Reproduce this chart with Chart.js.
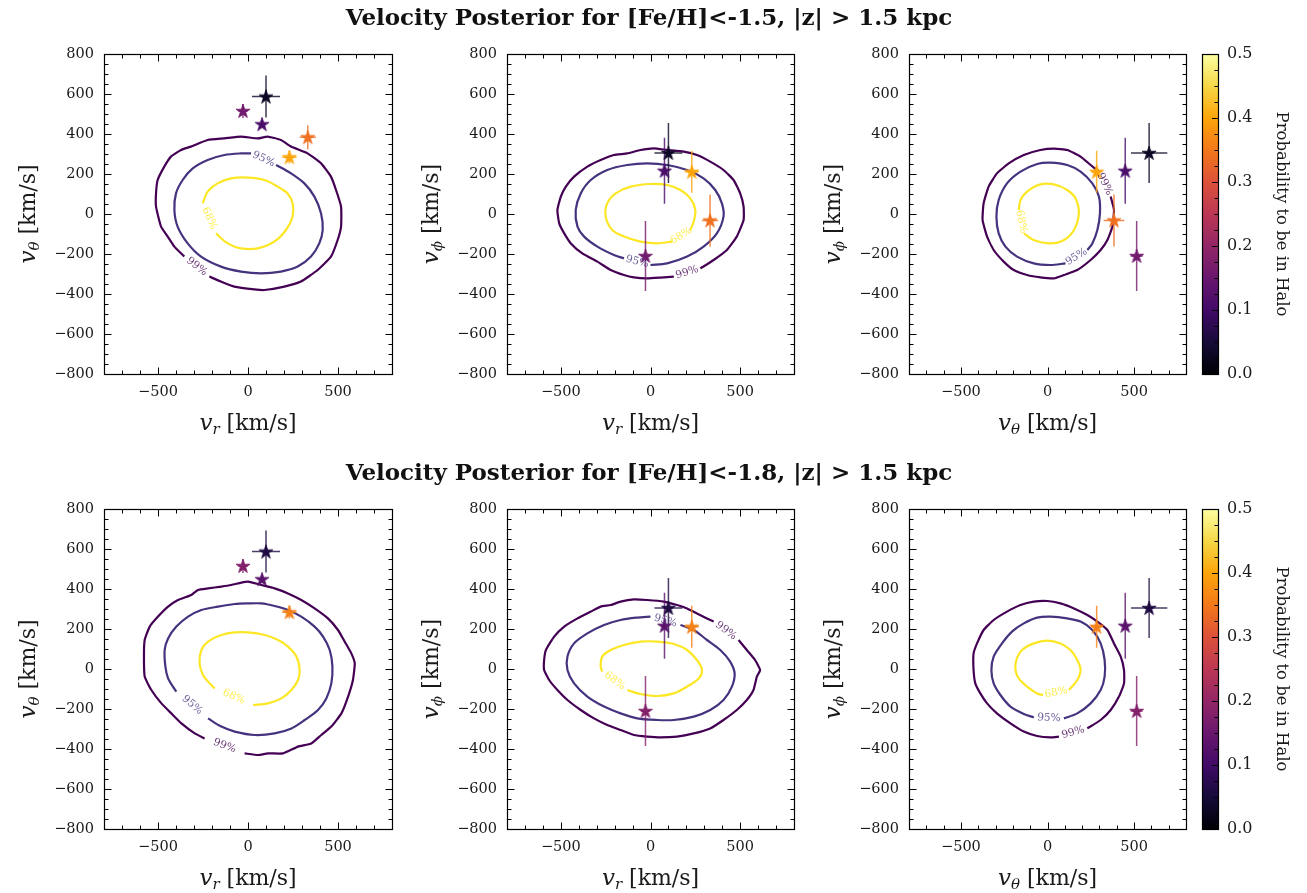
<!DOCTYPE html>
<html><head><meta charset="utf-8">
<script src="https://cdn.jsdelivr.net/npm/chart.js@4/dist/chart.umd.min.js"></script>
<style>
body{margin:0;background:#fff;width:1307px;height:893px;position:relative;overflow:hidden}
.t{position:absolute;left:0;width:1298px;text-align:center;font:bold 23px 'DejaVu Serif';line-height:22px;color:#111;z-index:2}
canvas{position:absolute}
</style></head><body>
<div class="t" style="top:6px">Velocity Posterior for [Fe/H]&lt;-1.5, |z| &gt; 1.5 kpc</div>
<div class="t" style="top:461px">Velocity Posterior for [Fe/H]&lt;-1.8, |z| &gt; 1.5 kpc</div>
<canvas id="p1" width="402" height="438" style="left:0px;top:0px"></canvas>
<canvas id="p2" width="401" height="438" style="left:403px;top:0px"></canvas>
<canvas id="p3" width="391" height="438" style="left:805px;top:0px"></canvas>
<canvas id="cb1" width="117" height="438" style="left:1190px;top:0px"></canvas>
<canvas id="p4" width="402" height="438" style="left:0px;top:455px"></canvas>
<canvas id="p5" width="401" height="438" style="left:403px;top:455px"></canvas>
<canvas id="p6" width="391" height="438" style="left:805px;top:455px"></canvas>
<canvas id="cb2" width="117" height="438" style="left:1190px;top:455px"></canvas>
<script>
// ---------------- data ----------------
const X_TICKS = [-500, 0, 500];
const Y_TICKS = [-800, -600, -400, -200, 0, 200, 400, 600, 800];
const CB_TICKS = [0, 0.1, 0.2, 0.3, 0.4, 0.5];
const P_MAX = 0.5;
const LEVELS = ['99%', '95%', '68%'];

// stars (v_r, v_theta, v_phi) and uncertainties
const VR    = [100, -28, 78, 332, 230];
const VTH   = [587, 515, 449, 384, 284];
const VPH   = [305, -210, 216, -32, 211];
const E_VR  = [78, 25, 15, 45, 40];
const E_VTH = [105, 35, 15, 60, 32];
const E_VPH = [150, 175, 165, 130, 105];
const P_HALO_15 = [0.03, 0.16, 0.11, 0.34, 0.40];
const STARS_18  = [0, 1, 2, 4];
const P_HALO_18 = [0.06, 0.18, 0.13, 0.36];

// contours [Fe/H] < -1.5
const T1_99 = [[-215,-313],[-150,-338],[-76,-363],[35,-377],[91,-380],[202,-363],[294,-338],[387,-280],[461,-213],[498,-130],[517,-63],[517,37],[489,120],[461,187],[406,253],[331,303],[239,337],[183,370],[109,387],[54,378],[-39,387],[-131,378],[-224,370],[-317,337],[-372,320],[-428,287],[-465,237],[-502,170],[-511,103],[-511,37],[-483,-63],[-446,-113],[-409,-163],[-354,-213]];
const T1_95 = [[156,245],[239,203],[313,153],[369,87],[406,3],[415,-80],[396,-147],[350,-213],[276,-263],[183,-288],[72,-297],[-39,-288],[-150,-263],[-261,-213],[-335,-147],[-391,-63],[-409,20],[-400,103],[-363,170],[-307,228],[-224,270],[-131,295],[-39,303],[17,303]];
const T1_68 = [[-178,-97],[-113,-147],[-39,-172],[54,-172],[146,-138],[211,-80],[248,-13],[248,53],[220,103],[165,137],[91,170],[-2,182],[-94,178],[-169,153],[-224,112],[-252,53]];
const T2_99 = [[278,-272],[352,-230],[426,-180],[481,-113],[519,-30],[519,37],[500,103],[463,170],[407,220],[333,262],[259,295],[185,312],[93,320],[19,328],[-56,320],[-130,303],[-204,295],[-278,270],[-352,237],[-426,187],[-472,137],[-500,87],[-519,20],[-509,-47],[-481,-97],[-444,-147],[-380,-197],[-296,-238],[-222,-280],[-148,-305],[-93,-317],[-19,-322],[56,-318],[130,-313]];
const T2_95 = [[0,-255],[93,-247],[204,-213],[296,-163],[370,-97],[407,-13],[398,53],[361,120],[296,178],[204,220],[93,245],[-19,253],[-130,245],[-241,220],[-333,170],[-389,103],[-417,20],[-407,-63],[-370,-113],[-296,-163],[-204,-205],[-148,-222]];
const T2_68 = [[120,-138],[37,-147],[-56,-138],[-148,-113],[-213,-80],[-250,-13],[-241,53],[-194,103],[-111,137],[0,150],[93,145],[167,120],[222,78],[250,20],[241,-38],[222,-80]];
const T3_99 = [[365,87],[384,20],[375,-63],[346,-130],[307,-180],[249,-230],[172,-280],[95,-305],[37,-322],[-41,-317],[-118,-305],[-195,-280],[-253,-238],[-311,-180],[-349,-113],[-375,-30],[-369,53],[-340,137],[-292,203],[-224,253],[-137,295],[-41,320],[37,327],[114,320],[191,287],[249,245],[297,212]];
const T3_95 = [[104,-247],[17,-255],[-79,-247],[-176,-213],[-243,-163],[-282,-97],[-295,-13],[-282,70],[-234,153],[-156,212],[-60,250],[17,257],[114,245],[191,212],[259,153],[297,87],[303,3],[288,-80],[259,-147],[230,-180]];
const T3_68 = [[-137,-97],[-79,-130],[17,-147],[95,-130],[153,-80],[181,3],[162,78],[114,120],[37,148],[-41,148],[-118,112],[-156,70],[-166,20]];

// contours [Fe/H] < -1.8
const B1_99 = [[-19,-422],[56,-430],[111,-422],[194,-422],[278,-388],[352,-372],[407,-330],[463,-288],[519,-222],[556,-138],[583,-55],[593,28],[574,78],[537,137],[500,195],[444,253],[370,303],[296,345],[222,378],[148,403],[74,420],[0,437],[-37,432],[-93,420],[-148,412],[-222,403],[-278,395],[-315,370],[-389,345],[-444,312],[-500,262],[-546,212],[-574,145],[-578,62],[-574,-38],[-537,-105],[-481,-172],[-426,-222],[-370,-272],[-296,-322],[-241,-347]];
const B1_95 = [[-222,-247],[-148,-288],[-74,-313],[37,-330],[148,-322],[241,-297],[315,-255],[389,-205],[435,-147],[463,-72],[469,12],[454,95],[417,162],[370,212],[296,262],[222,295],[148,315],[74,328],[0,328],[-74,325],[-167,312],[-259,295],[-333,262],[-398,212],[-444,153],[-463,95],[-459,12],[-444,-47],[-417,-88],[-398,-113]];
const B1_68 = [[28,-180],[111,-172],[185,-147],[241,-105],[278,-55],[287,-5],[269,62],[222,112],[167,145],[93,170],[0,183],[-74,183],[-148,170],[-222,137],[-259,95],[-269,28],[-250,-30],[-213,-72],[-185,-97]];
const B2_99 = [[491,145],[537,95],[583,45],[611,-5],[593,-38],[574,-105],[537,-155],[481,-205],[407,-255],[333,-297],[241,-322],[148,-338],[56,-342],[-19,-338],[-93,-330],[-167,-305],[-241,-280],[-315,-247],[-389,-205],[-463,-155],[-519,-105],[-565,-55],[-593,-5],[-593,45],[-583,95],[-537,162],[-481,212],[-407,253],[-333,287],[-278,312],[-222,320],[-167,337],[-93,348],[-19,345],[74,337],[148,320],[204,303],[259,278],[315,253],[352,237]];
const B2_95 = [[167,220],[241,195],[315,145],[389,95],[444,37],[469,-22],[454,-88],[407,-155],[333,-205],[241,-238],[130,-255],[37,-255],[-74,-247],[-167,-222],[-259,-188],[-352,-138],[-426,-72],[-463,-5],[-463,62],[-426,128],[-352,178],[-259,220],[-167,245],[-74,257],[0,262]];
const B2_68 = [[-130,-105],[-56,-125],[37,-135],[130,-122],[204,-88],[269,-47],[287,-5],[259,45],[204,95],[130,125],[37,137],[-56,137],[-148,120],[-222,95],[-269,62],[-278,12],[-269,-13]];
const B3_99 = [[230,-297],[307,-255],[365,-205],[413,-138],[442,-72],[442,-5],[423,62],[384,128],[346,195],[288,237],[230,270],[153,303],[75,328],[-2,340],[-79,337],[-156,320],[-234,287],[-311,245],[-369,195],[-407,128],[-427,78],[-427,-5],[-417,-72],[-388,-122],[-349,-172],[-292,-222],[-214,-272],[-137,-313],[-60,-335],[17,-342],[66,-338]];
const B3_95 = [[95,-247],[172,-222],[249,-172],[307,-105],[330,-38],[330,45],[307,128],[259,195],[191,237],[114,253],[17,262],[-60,257],[-137,228],[-205,187],[-263,128],[-311,62],[-324,-5],[-311,-72],[-272,-130],[-214,-188],[-137,-225],[-79,-242]];
const B3_68 = [[124,-105],[172,-55],[191,-5],[172,45],[133,95],[75,128],[-2,142],[-79,128],[-147,95],[-180,45],[-185,-5],[-166,-47],[-118,-88],[-60,-122],[-25,-130]];

// ---------------- styling helpers ----------------
const FONT = 'DejaVu Serif';
const TXT = '#1a1a1a';
const LEVEL_COLORS = ['#440154', '#46337f', '#fde725'];
const LEVEL_TENSION = [0.15, 0.3, 0.3];
const INFERNO = ['#000004','#160b39','#420a68','#6a176e','#932667','#bc3754','#dd513a','#f37819','#fca50a','#f6d746','#fcffa4'];
function rgbOf(h){return [parseInt(h.slice(1,3),16),parseInt(h.slice(3,5),16),parseInt(h.slice(5,7),16)];}
function inferno(t){
  t = Math.max(0, Math.min(1, t));
  const s = t*10, i = Math.min(9, Math.floor(s)), f = s - i;
  const a = rgbOf(INFERNO[i]), b = rgbOf(INFERNO[i+1]);
  return a.map((v,k)=>Math.round(v + (b[k]-v)*f));
}
function rgba(c, a){return `rgba(${c[0]},${c[1]},${c[2]},${a})`;}
function starImg(c){
  const cv = document.createElement('canvas'); cv.width = 20; cv.height = 20;
  const g = cv.getContext('2d'); const R = 7.4, r = R*0.382;
  g.beginPath();
  for (let k=0;k<10;k++){
    const ang = -Math.PI/2 + k*Math.PI/5, rad = k%2 ? r : R;
    const px = 10 + rad*Math.cos(ang), py = 10.5 + rad*Math.sin(ang);
    k ? g.lineTo(px,py) : g.moveTo(px,py);
  }
  g.closePath(); g.fillStyle = rgba(c,1); g.fill();
  g.lineWidth = 0.8; g.strokeStyle = rgba(c,1); g.stroke();
  return cv;
}
const fmt = v => v < 0 ? '\u2212' + Math.abs(v) : String(v);

// ---------------- plugins ----------------
Chart.register({
  id: 'errbars',
  beforeDatasetDraw(chart, args){
    const ds = chart.data.datasets[args.index];
    if (!ds.errColors) return;
    const {ctx, scales:{x, y}} = chart;
    ctx.save(); ctx.lineWidth = 1.5;
    ds.data.forEach((p,i)=>{
      ctx.strokeStyle = rgba(ds.errColors[i], 0.8);
      const px = x.getPixelForValue(p.x), py = y.getPixelForValue(p.y);
      ctx.beginPath();
      ctx.moveTo(x.getPixelForValue(p.x - p.ex), py); ctx.lineTo(x.getPixelForValue(p.x + p.ex), py);
      ctx.moveTo(px, y.getPixelForValue(p.y - p.ey)); ctx.lineTo(px, y.getPixelForValue(p.y + p.ey));
      ctx.stroke();
    });
    ctx.restore();
  }
});
Chart.register({
  id: 'clabels',
  afterDatasetsDraw(chart){
    const {ctx, scales:{x, y}} = chart;
    chart.data.datasets.forEach(ds=>{
      if (!ds.levelLabel) return;
      const a = ds.data[ds.data.length-1], b = ds.data[0];
      const ax = x.getPixelForValue(a.x), ay = y.getPixelForValue(a.y);
      const bx = x.getPixelForValue(b.x), by = y.getPixelForValue(b.y);
      let ang = Math.atan2(by-ay, bx-ax);
      if (ang > Math.PI/2) ang -= Math.PI; if (ang < -Math.PI/2) ang += Math.PI;
      ctx.save();
      ctx.translate((ax+bx)/2, (ay+by)/2); ctx.rotate(ang);
      ctx.font = `10.5px '${FONT}'`; ctx.fillStyle = ds.labelColor;
      ctx.textAlign = 'center'; ctx.textBaseline = 'middle';
      ctx.fillText(ds.levelLabel, 0, 0);
      ctx.restore();
    });
  }
});
function drawMathLabel(ctx, lab){
  const parts = [
    {t:'v', f:`italic 23px '${FONT}'`, dy:0},
    {t:lab, f:`italic 15px '${FONT}'`, dy:4},
    {t:' [km/s]', f:`22px '${FONT}'`, dy:0}
  ];
  let w = 0;
  parts.forEach(p=>{ctx.font = p.f; p.w = ctx.measureText(p.t).width; w += p.w;});
  let cx = -w/2;
  parts.forEach(p=>{ctx.font = p.f; ctx.fillText(p.t, cx, p.dy); cx += p.w;});
}
Chart.register({
  id: 'frame',
  afterDraw(chart, args, opts){
    if (!opts || !opts.on) return;
    const {ctx, chartArea:a, scales:{x, y}} = chart;
    ctx.save();
    ctx.strokeStyle = '#000'; ctx.lineWidth = 1;
    const L = Math.round(a.left)+0.5, R = Math.round(a.right)+0.5, T = Math.round(a.top)+0.5, B = Math.round(a.bottom)+0.5;
    ctx.beginPath();
    for (let v = x.min; v <= x.max; v += opts.xMinor){
      const p = Math.round(x.getPixelForValue(v))+0.5;
      const len = X_TICKS.includes(v) ? 7 : 4;
      ctx.moveTo(p, B); ctx.lineTo(p, B-len); ctx.moveTo(p, T); ctx.lineTo(p, T+len);
    }
    for (let v = y.min; v <= y.max; v += opts.yMinor){
      const p = Math.round(y.getPixelForValue(v))+0.5;
      const len = Y_TICKS.includes(v) ? 7 : 4;
      ctx.moveTo(L, p); ctx.lineTo(L+len, p); ctx.moveTo(R, p); ctx.lineTo(R-len, p);
    }
    ctx.stroke();
    ctx.lineWidth = 1.2;
    ctx.strokeRect(L, T, R-L, B-T);
    // axis titles
    ctx.fillStyle = TXT; ctx.textBaseline = 'alphabetic'; ctx.textAlign = 'left';
    ctx.save(); ctx.translate((a.left+a.right)/2, a.bottom+56); drawMathLabel(ctx, opts.xl); ctx.restore();
    ctx.save(); ctx.translate(a.left-69, (a.top+a.bottom)/2); ctx.rotate(-Math.PI/2); drawMathLabel(ctx, opts.yl); ctx.restore();
    ctx.restore();
  }
});
Chart.register({
  id: 'cbar',
  beforeDatasetsDraw(chart, args, opts){
    if (!opts || !opts.on) return;
    const {ctx, chartArea:a} = chart;
    const g = ctx.createLinearGradient(0, a.bottom, 0, a.top);
    for (let k=0;k<=50;k++){ g.addColorStop(k/50, rgba(inferno(k/50),1)); }
    ctx.save(); ctx.fillStyle = g; ctx.fillRect(a.left, a.top, a.right-a.left, a.bottom-a.top); ctx.restore();
  },
  afterDraw(chart, args, opts){
    if (!opts || !opts.on) return;
    const {ctx, chartArea:a, scales:{y}} = chart;
    ctx.save(); ctx.strokeStyle = '#000'; ctx.lineWidth = 1;
    ctx.beginPath();
    for (let k=0;k<=20;k++){
      const v = k*0.025, p = Math.round(y.getPixelForValue(v))+0.5;
      const len = (k%4===0) ? 6 : 3.5;
      ctx.moveTo(a.right, p); ctx.lineTo(a.right-len, p);
    }
    ctx.stroke();
    ctx.lineWidth = 1.2;
    ctx.strokeRect(Math.round(a.left)+0.5, Math.round(a.top)+0.5, Math.round(a.right-a.left), Math.round(a.bottom-a.top));
    ctx.restore();
  }
});

// ---------------- builders ----------------
function axisCfg(ticks, fit){
  return {
    type:'linear', min:-800, max:800,
    afterBuildTicks: s => { s.ticks = ticks.map(v=>({value:v})); },
    afterFit: fit,
    grid:{display:false, drawTicks:false}, border:{display:false},
    ticks:{font:{family:FONT, size:14.5}, color:TXT, padding:10, maxRotation:0, autoSkip:false, callback: fmt}
  };
}
function makePanel(id, xs, ys, exs, eys, probs, contours, xl, yl){
  const cols = probs.map(p=>inferno(p/P_MAX));
  const datasets = [{
    data: xs.map((v,i)=>({x:v, y:ys[i], ex:exs[i], ey:eys[i]})),
    pointStyle: cols.map(c=>starImg(c)), pointRadius:7, showLine:false, errColors: cols
  }];
  contours.forEach((c,k)=>{
    const col = rgbOf(LEVEL_COLORS[k]);
    datasets.push({
      data: c.map(([x,y])=>({x,y})), showLine:true, pointRadius:0, borderColor:LEVEL_COLORS[k],
      borderWidth:2.2, tension:LEVEL_TENSION[k], fill:false, levelLabel:LEVELS[k], labelColor: rgba(col, 0.8)
    });
  });
  new Chart(document.getElementById(id), {
    type:'scatter', data:{datasets},
    options:{
      responsive:false, animation:false, events:[], devicePixelRatio:1,
      layout:{padding:{top:54, right:10, left:0, bottom:0}},
      plugins:{legend:{display:false}, tooltip:{enabled:false}, frame:{on:true, xMinor:100, yMinor:50, xl, yl}},
      scales:{
        x: axisCfg(X_TICKS, s=>{s.height = 64;}),
        y: axisCfg(Y_TICKS, s=>{s.width = 104;})
      }
    }
  });
}
function makeColorbar(id){
  new Chart(document.getElementById(id), {
    type:'scatter', data:{datasets:[]},
    options:{
      responsive:false, animation:false, events:[], devicePixelRatio:1,
      layout:{padding:{top:54, left:12, right:0, bottom:64}},
      plugins:{legend:{display:false}, tooltip:{enabled:false}, cbar:{on:true}},
      scales:{
        x:{display:false, min:0, max:1},
        y:{position:'right', min:0, max:P_MAX,
           afterBuildTicks: s => { s.ticks = CB_TICKS.map(v=>({value:v})); },
           afterFit: s => { s.width = 89; },
           grid:{display:false, drawTicks:false}, border:{display:false},
           ticks:{padding:9, font:{family:FONT, size:16}, color:TXT, callback: v => v.toFixed(1)},
           title:{display:true, text:'Probability to be in Halo', font:{family:FONT, size:16.5}, color:TXT, padding:{top:16, bottom:0}}
        }
      }
    }
  });
}
const pick = (arr, idx) => idx.map(i=>arr[i]);

makePanel('p1', VR, VTH, E_VR, E_VTH, P_HALO_15, [T1_99, T1_95, T1_68], 'r', 'θ');
makePanel('p2', VR, VPH, E_VR, E_VPH, P_HALO_15, [T2_99, T2_95, T2_68], 'r', 'ϕ');
makePanel('p3', VTH, VPH, E_VTH, E_VPH, P_HALO_15, [T3_99, T3_95, T3_68], 'θ', 'ϕ');
makeColorbar('cb1');
makePanel('p4', pick(VR,STARS_18), pick(VTH,STARS_18), pick(E_VR,STARS_18), pick(E_VTH,STARS_18), P_HALO_18, [B1_99, B1_95, B1_68], 'r', 'θ');
makePanel('p5', pick(VR,STARS_18), pick(VPH,STARS_18), pick(E_VR,STARS_18), pick(E_VPH,STARS_18), P_HALO_18, [B2_99, B2_95, B2_68], 'r', 'ϕ');
makePanel('p6', pick(VTH,STARS_18), pick(VPH,STARS_18), pick(E_VTH,STARS_18), pick(E_VPH,STARS_18), P_HALO_18, [B3_99, B3_95, B3_68], 'θ', 'ϕ');
makeColorbar('cb2');
</script>
</body></html>
